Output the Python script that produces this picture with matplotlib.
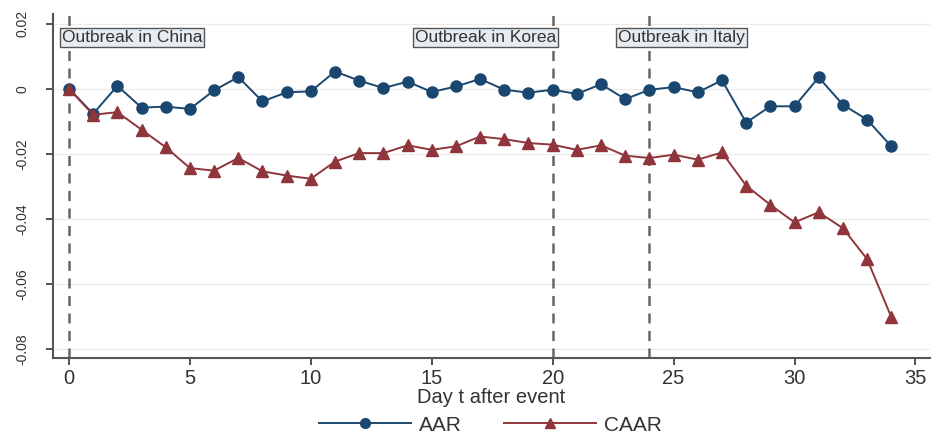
import matplotlib.pyplot as plt
from matplotlib.lines import Line2D

plt.rcParams['font.family'] = ['Liberation Sans', 'DejaVu Sans']

days = list(range(35))
aar = [0.0, -0.0077, 0.0009, -0.0058, -0.0055, -0.0062, -0.0005, 0.0036, -0.0039, -0.0011,
       -0.0008, 0.0053, 0.0025, 0.0002, 0.0022, -0.0010, 0.0007, 0.0030, -0.0003, -0.0012,
       -0.0003, -0.0016, 0.0014, -0.0032, -0.0003, 0.0005, -0.0011, 0.0026, -0.0104, -0.0054,
       -0.0054, 0.0035, -0.0049, -0.0095, -0.0177]
caar = [0.0, -0.0080, -0.0072, -0.0126, -0.0180, -0.0244, -0.0252, -0.0213, -0.0254, -0.0267,
        -0.0277, -0.0224, -0.0198, -0.0198, -0.0174, -0.0188, -0.0177, -0.0147, -0.0155, -0.0167,
        -0.0172, -0.0188, -0.0174, -0.0206, -0.0213, -0.0203, -0.0218, -0.0196, -0.0298, -0.0357,
        -0.0411, -0.0380, -0.0429, -0.0524, -0.0702]
event_days = [0, 20, 24]
event_labels = ['Outbreak in China', 'Outbreak in Korea', 'Outbreak in Italy']
label_x = [-0.3, 14.3, 22.7]
yticks = [0.02, 0, -0.02, -0.04, -0.06, -0.08]
ytick_labels = ['0.02', '0', '-0.02', '-0.04', '-0.06', '-0.08']
xticks = [0, 5, 10, 15, 20, 25, 30, 35]

blue = '#1a476f'
red = '#90353b'

fig = plt.figure(figsize=(9.47, 4.37), dpi=100)
ax = fig.add_axes([0.056, 0.181, 0.926, 0.787])

for y in yticks:
    ax.axhline(y, color='#eaeaea', lw=0.8, zorder=0)

for d in event_days:
    ax.axvline(d, color='#666666', lw=1.8, ls=(0, (4, 3)), zorder=1)

ax.plot(days, aar, color=blue, lw=1.4, marker='o', ms=8, zorder=3)
ax.plot(days, caar, color=red, lw=1.4, marker='^', ms=8, zorder=3)

for lx, txt in zip(label_x, event_labels):
    ax.text(lx, 0.0157, txt, fontsize=12.5, color='#333333', va='center', ha='left',
            bbox=dict(boxstyle='square,pad=0.1', fc='#e6edf2', ec='#555555', lw=1.0), zorder=4)

ax.set_xlim(-0.66, 35.6)
ax.set_ylim(-0.0828, 0.023)
ax.set_xticks(xticks)
ax.set_yticks(yticks)
ax.set_yticklabels(ytick_labels, rotation=90, va='center')
ax.tick_params(axis='x', labelsize=14.5, colors='#333333', length=5, width=1.2, pad=3)
ax.tick_params(axis='y', labelsize=10, colors='#333333', length=5, width=1.2, pad=12)
for lab in ax.get_xticklabels() + ax.get_yticklabels():
    lab.set_color('#333333')
ax.set_xlabel('Day t after event', fontsize=14.5, color='#333333', va='center')
ax.xaxis.set_label_coords(0.5, -0.115)

for s in ['top', 'right']:
    ax.spines[s].set_visible(False)
for s in ['left', 'bottom']:
    ax.spines[s].set_color('#555555')
    ax.spines[s].set_linewidth(1.5)

handles = [Line2D([], [], color=blue, lw=1.4, marker='o', ms=7),
           Line2D([], [], color=red, lw=1.4, marker='^', ms=7)]
fig.legend(handles, ['AAR', 'CAAR'], loc='center', bbox_to_anchor=(0.518, 0.027), ncol=2,
           frameon=False, fontsize=15, handlelength=4.4, columnspacing=2.0, handletextpad=0.4,
           labelcolor='#333333')

fig.savefig('out.png', dpi=100)
